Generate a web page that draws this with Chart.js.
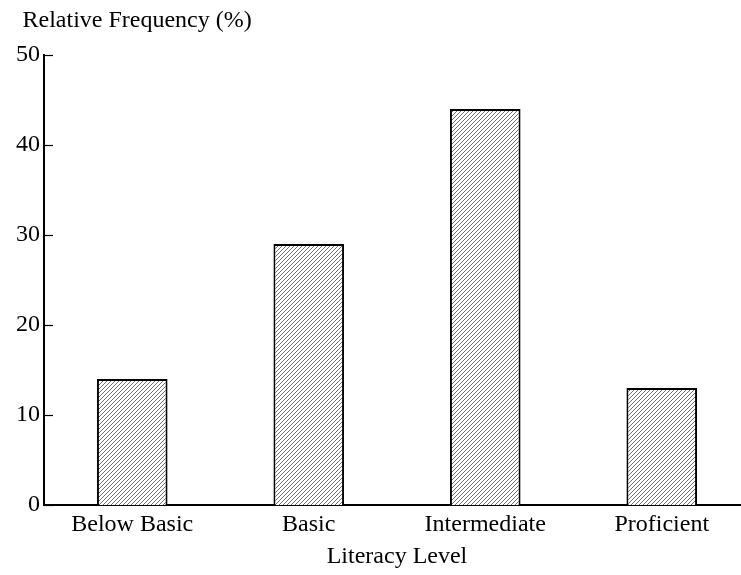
<!DOCTYPE html>
<html>
<head>
<meta charset="utf-8">
<script src="https://cdn.jsdelivr.net/npm/chart.js@4.4.1/dist/chart.umd.min.js"></script>
<style>
  html, body { margin: 0; padding: 0; overflow: hidden; background: #fff; }
</style>
</head>
<body>
<canvas id="chart" width="750" height="575"></canvas>
<script>
const levels = ["Below Basic", "Basic", "Intermediate", "Proficient"];
const frequencies = [14, 29, 44, 13];
const yTicks = [0, 10, 20, 30, 40, 50];
const yAxisName = "Relative Frequency (%)";
const xAxisName = "Literacy Level";

const FONT = "'Liberation Serif', 'Times New Roman', serif";
Chart.defaults.font.family = FONT;
Chart.defaults.font.size = 24;
Chart.defaults.color = "#000";

// diagonal hatch fill for the bars, 1px "/" lines every 4px
function makeHatch() {
  const tile = document.createElement("canvas");
  tile.width = 4;
  tile.height = 4;
  const c = tile.getContext("2d");
  c.fillStyle = "#fff";
  c.fillRect(0, 0, 4, 4);
  c.fillStyle = "#707070";
  for (let i = 0; i < 4; i++) c.fillRect(i, 3 - i, 1, 1);
  return c.createPattern(tile, "repeat");
}

// tick marks to the inside of the y axis + the axis name above it
const yAxisExtras = {
  id: "yAxisExtras",
  afterDatasetsDraw(chart) {
    const { ctx, chartArea, scales: { y } } = chart;
    ctx.save();
    ctx.strokeStyle = "#000";
    ctx.lineWidth = 1.2;
    y.ticks.forEach((t) => {
      const py = Math.round(y.getPixelForValue(t.value)) + 0.5;
      ctx.beginPath();
      ctx.moveTo(chartArea.left, py);
      ctx.lineTo(chartArea.left + 9, py);
      ctx.stroke();
    });
    ctx.fillStyle = "#000";
    ctx.font = "24px " + FONT;
    ctx.textAlign = "left";
    ctx.textBaseline = "alphabetic";
    ctx.fillText(yAxisName, chartArea.left - 21.5, 27);
    ctx.restore();
  },
};

new Chart(document.getElementById("chart"), {
  type: "bar",
  data: {
    labels: levels,
    datasets: [
      {
        data: frequencies,
        backgroundColor: makeHatch(),
        borderColor: "#000",
        borderWidth: 2,
        barPercentage: 0.4,
        categoryPercentage: 1.0,
      },
    ],
  },
  options: {
    responsive: false,
    animation: false,
    layout: { padding: { left: 0, top: 55, right: 0, bottom: 0 } },
    plugins: {
      legend: { display: false },
      tooltip: { enabled: false },
    },
    scales: {
      x: {
        grid: { display: false, drawTicks: false },
        border: { display: true, color: "#000", width: 2 },
        // tick padding counts twice in the axis height
        ticks: { padding: 5.6, font: { size: 24, lineHeight: 1.2 }, color: "#000" },
        title: {
          display: true,
          text: xAxisName,
          color: "#000",
          font: { size: 24, lineHeight: 1.0 },
          padding: { top: 0, bottom: 6 },
        },
      },
      y: {
        min: 0,
        max: 50,
        afterBuildTicks: (scale) => {
          scale.ticks = yTicks.map((v) => ({ value: v }));
        },
        afterFit: (scale) => {
          scale.width = 44;
        },
        grid: { display: false, drawTicks: false },
        border: { display: true, color: "#000", width: 2 },
        ticks: { padding: 4, font: { size: 24 }, color: "#000" },
      },
    },
  },
  plugins: [yAxisExtras],
});
</script>
</body>
</html>
